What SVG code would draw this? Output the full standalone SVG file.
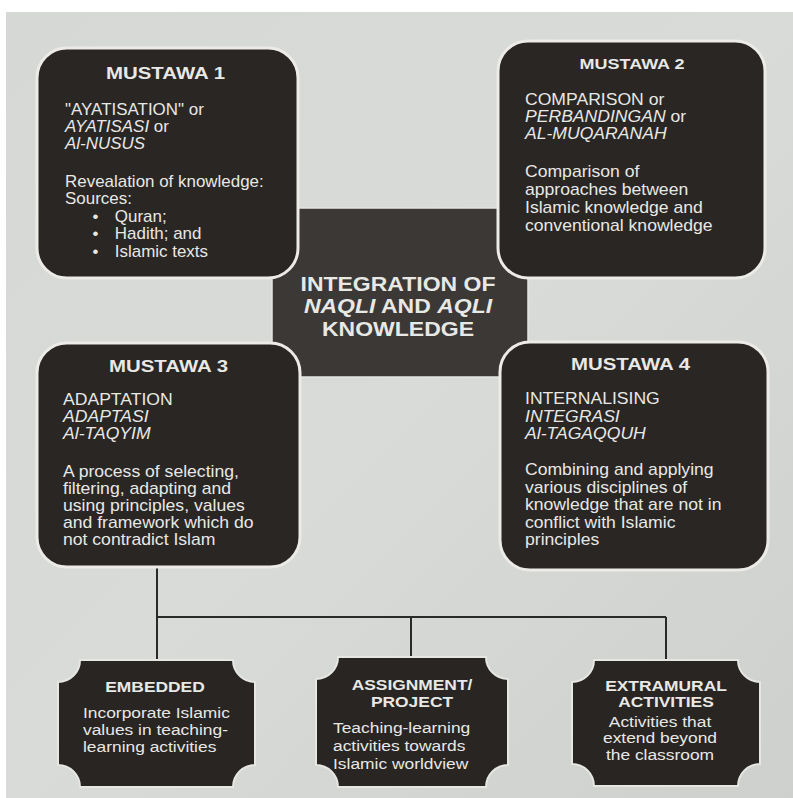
<svg xmlns="http://www.w3.org/2000/svg" width="793" height="798" viewBox="0 0 793 798">
<defs>
<linearGradient id="bg" x1="0" y1="0" x2="1" y2="1">
<stop offset="0" stop-color="#d6d8d5"/>
<stop offset="0.5" stop-color="#d9dbd8"/>
<stop offset="1" stop-color="#cdd0cd"/>
</linearGradient>
<style>
.box{fill:#292624;stroke:#ecebe8;stroke-width:3}
.center{fill:#3b3835;stroke:#e4e4e2;stroke-width:1.5}
.tag{fill:#282523;stroke:#e6e6e3;stroke-width:2}
text{font-family:"Liberation Sans",Arial,Helvetica,sans-serif;fill:#e8e8e5}
.title{font-weight:bold;font-size:17px;text-anchor:middle}
.t2{font-weight:bold;font-size:15px;text-anchor:middle}
.body{font-size:16px}
.ctr{font-weight:bold;font-size:20px;text-anchor:middle}
.bt{font-weight:bold;font-size:14.5px;text-anchor:middle}
.bb{font-size:14.5px}
.bbc{font-size:14.5px;text-anchor:middle}
.i{font-style:italic}
.conn{stroke:#2a2a2a;stroke-width:2;fill:none}
</style>
</defs>
<rect x="0" y="0" width="793" height="798" fill="#ffffff"/>
<rect x="6" y="12" width="787" height="786" fill="url(#bg)"/>

<g id="connectors">
<path class="conn" d="M157 567 V660"/>
<path class="conn" d="M157 617 H666"/>
<path class="conn" d="M411 617 V658"/>
<path class="conn" d="M666 617 V660"/>
</g>

<g id="center-node">
<rect class="center" x="272" y="208" width="256" height="169"/>
<g transform="translate(398 0) scale(1.15 1)">
<text class="ctr" x="0" y="291">INTEGRATION OF</text>
<text class="ctr" x="0" y="313.5"><tspan class="i">NAQLI</tspan> AND <tspan class="i">AQLI</tspan></text>
<text class="ctr" x="0" y="336">KNOWLEDGE</text>
</g>
</g>

<g id="mustawa1">
<rect class="box" x="37" y="48" width="261" height="230" rx="30" ry="30"/>
<g transform="translate(165.5 0) scale(1.2 1)">
<text class="title" x="0" y="79">MUSTAWA 1</text>
</g>
<g transform="translate(65 0) scale(1.06 1)">
<text class="body" x="0" y="115">"AYATISATION" or</text>
<text class="body" x="0" y="132"><tspan class="i">AYATISASI</tspan> or</text>
<text class="body i" x="0" y="149">Al-NUSUS</text>
<text class="body" x="0" y="187">Revealation of knowledge:</text>
<text class="body" x="0" y="204">Sources:</text>
<text class="body" x="26" y="222">•</text>
<text class="body" x="47" y="222">Quran;</text>
<text class="body" x="26" y="239">•</text>
<text class="body" x="47" y="239">Hadith; and</text>
<text class="body" x="26" y="257">•</text>
<text class="body" x="47" y="257">Islamic texts</text>
</g>
</g>

<g id="mustawa2">
<rect class="box" x="498" y="41" width="267" height="237" rx="30" ry="30"/>
<g transform="translate(632 0) scale(1.2 1)">
<text class="t2" x="0" y="69">MUSTAWA 2</text>
</g>
<g transform="translate(525 0) scale(1.1 1)">
<text class="body" x="0" y="105">COMPARISON or</text>
<text class="body" x="0" y="122"><tspan class="i">PERBANDINGAN</tspan> or</text>
<text class="body i" x="0" y="139">AL-MUQARANAH</text>
<text class="body" x="0" y="177">Comparison of</text>
<text class="body" x="0" y="195">approaches between</text>
<text class="body" x="0" y="213">Islamic knowledge and</text>
<text class="body" x="0" y="231">conventional knowledge</text>
</g>
</g>

<g id="mustawa3">
<rect class="box" x="37" y="343" width="263" height="224" rx="30" ry="30"/>
<g transform="translate(168.5 0) scale(1.2 1)">
<text class="title" x="0" y="372">MUSTAWA 3</text>
</g>
<g transform="translate(63 0) scale(1.1 1)">
<text class="body" x="0" y="405">ADAPTATION</text>
<text class="body i" x="0" y="422">ADAPTASI</text>
<text class="body i" x="0" y="439">Al-TAQYIM</text>
<text class="body" x="0" y="477">A process of selecting,</text>
<text class="body" x="0" y="494">filtering, adapting and</text>
<text class="body" x="0" y="511">using principles, values</text>
<text class="body" x="0" y="528">and framework which do</text>
<text class="body" x="0" y="545">not contradict Islam</text>
</g>
</g>

<g id="mustawa4">
<rect class="box" x="500" y="342" width="268" height="228" rx="30" ry="30"/>
<g transform="translate(630.5 0) scale(1.2 1)">
<text class="title" x="0" y="370">MUSTAWA 4</text>
</g>
<g transform="translate(525 0) scale(1.1 1)">
<text class="body" x="0" y="404">INTERNALISING</text>
<text class="body i" x="0" y="422">INTEGRASI</text>
<text class="body i" x="0" y="439">Al-TAGAQQUH</text>
<text class="body" x="0" y="475">Combining and applying</text>
<text class="body" x="0" y="493">various disciplines of</text>
<text class="body" x="0" y="510">knowledge that are not in</text>
<text class="body" x="0" y="528">conflict with Islamic</text>
<text class="body" x="0" y="545">principles</text>
</g>
</g>

<g id="embedded">
<path class="tag" d="M80 660 H233 A22 22 0 0 0 255 682 V765 A22 22 0 0 0 233 787 H80 A22 22 0 0 0 58 765 V682 A22 22 0 0 0 80 660 Z"/>
<g transform="translate(155 0) scale(1.2 1)">
<text class="bt" x="0" y="692">EMBEDDED</text>
</g>
<g transform="translate(83 0) scale(1.2 1)">
<text class="bb" x="0" y="718">Incorporate Islamic</text>
<text class="bb" x="0" y="735">values in teaching-</text>
<text class="bb" x="0" y="752">learning activities</text>
</g>
</g>

<g id="assignment">
<path class="tag" d="M338 657 H486 A22 22 0 0 0 508 679 V765 A22 22 0 0 0 486 787 H338 A22 22 0 0 0 316 765 V679 A22 22 0 0 0 338 657 Z"/>
<g transform="translate(412 0) scale(1.2 1)">
<text class="bt" x="0" y="690">ASSIGNMENT/</text>
<text class="bt" x="0" y="707">PROJECT</text>
</g>
<g transform="translate(333 0) scale(1.2 1)">
<text class="bb" x="0" y="733">Teaching-learning</text>
<text class="bb" x="0" y="751">activities towards</text>
<text class="bb" x="0" y="769">Islamic worldview</text>
</g>
</g>

<g id="extramural">
<path class="tag" d="M594 660 H738 A22 22 0 0 0 760 682 V764 A22 22 0 0 0 738 786 H594 A22 22 0 0 0 572 764 V682 A22 22 0 0 0 594 660 Z"/>
<g transform="translate(666 0) scale(1.2 1)">
<text class="bt" x="0" y="691">EXTRAMURAL</text>
<text class="bt" x="0" y="707.5">ACTIVITIES</text>
</g>
<g transform="translate(660 0) scale(1.2 1)">
<text class="bbc" x="0" y="727">Activities that</text>
<text class="bbc" x="0" y="743.5">extend beyond</text>
<text class="bbc" x="0" y="760">the classroom</text>
</g>
</g>
</svg>
